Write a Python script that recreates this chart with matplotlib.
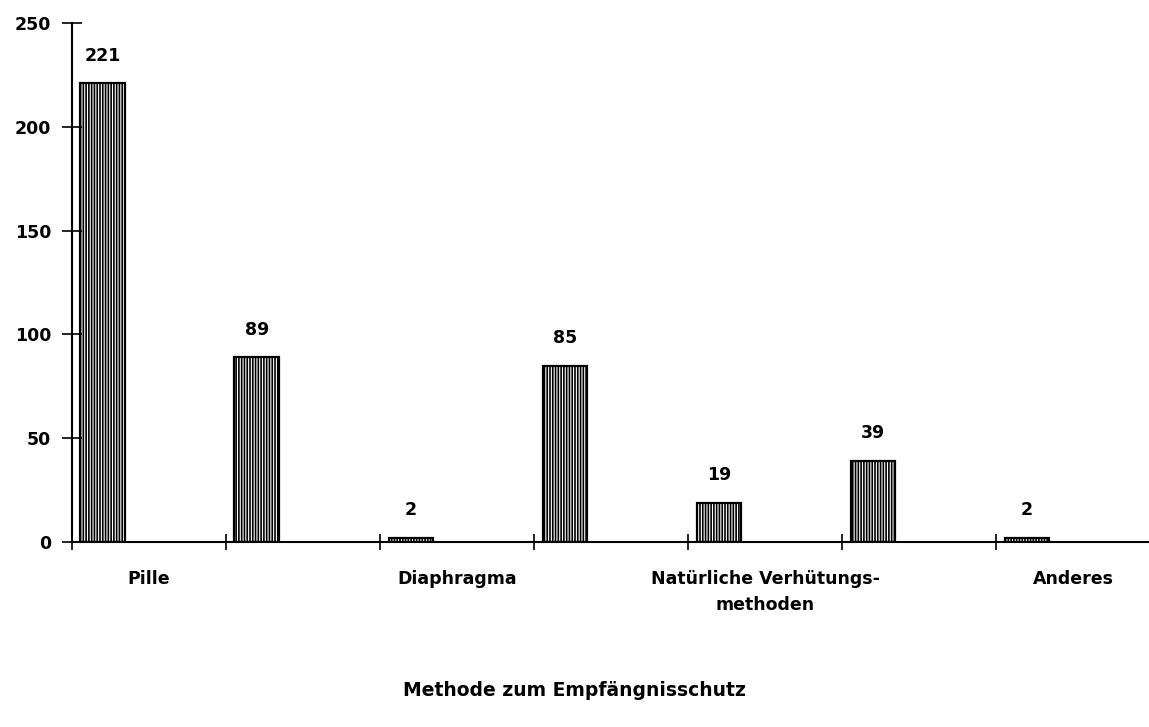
import matplotlib
matplotlib.use("Agg")
import matplotlib.pyplot as plt
import numpy as np

plt.rcParams['font.family'] = ['DejaVu Sans']
plt.rcParams['hatch.linewidth'] = 0.8

categories = ["Pille", "", "Diaphragma", "", "Natürliche Verhütungs-\nmethoden", "", "Anderes"]
values = [221, 89, 2, 85, 19, 39, 2]
y_ticks = [0, 50, 100, 150, 200, 250]
x_title = "Methode zum Empfängnisschutz"

fig = plt.figure(figsize=(11.49, 7.27), dpi=100)
ax = fig.add_axes([72/1149, (727-542)/727, 1 - 72/1149 + 0.001, 519/727])

x = np.arange(len(values))
ax.bar(x + 0.2, values, width=0.29, facecolor='black', edgecolor='white',
       hatch='||||||', linewidth=0)
ax.bar(x + 0.2, values, width=0.29, fill=False, edgecolor='black', linewidth=1.6)

for xi, v in zip(x, values):
    ax.text(xi + 0.2, v + 9, str(v), ha='center', va='bottom',
            fontsize=12.5, fontweight='bold')

ax.set_xlim(0, 7)
ax.set_ylim(0, 250)
ax.set_yticks(y_ticks)
ax.set_yticklabels([str(t) for t in y_ticks], fontsize=12.5, fontweight='bold')
ax.set_xticks(np.arange(0, 8))
ax.set_xticklabels([])
ax.set_xticks(x + 0.5, minor=True)
ax.set_xticklabels(categories, minor=True, fontsize=12.5, fontweight='bold', linespacing=1.6)
ax.tick_params(axis='x', which='minor', length=0, pad=20)
ax.tick_params(axis='x', which='major', direction='inout', length=12, width=1.2)
ax.tick_params(axis='y', direction='inout', length=14, width=1.2, pad=8)

for s in ['top', 'right']:
    ax.spines[s].set_visible(False)
for s in ['left', 'bottom']:
    ax.spines[s].set_linewidth(1.5)

fig.text(0.5, 1 - 690/727, x_title, ha='center', va='center', fontsize=13.5, fontweight='bold')

fig.savefig("out.png", dpi=100)
